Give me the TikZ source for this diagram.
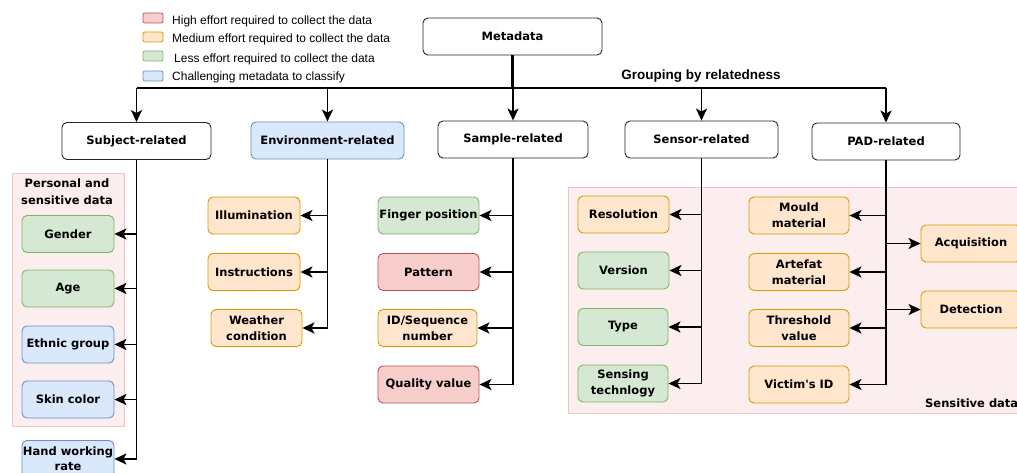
\documentclass[tikz,border=0pt]{standalone}
\usepackage{fontspec}
\usetikzlibrary{arrows.meta}
\newfontfamily\boxfont{DejaVu Sans}
\newfontfamily\legfont{Liberation Sans}

\definecolor{redF}{HTML}{F8CECC}\definecolor{redD}{HTML}{B85450}
\definecolor{orgF}{HTML}{FFE6CC}\definecolor{orgD}{HTML}{D79B00}
\definecolor{grnF}{HTML}{D5E8D4}\definecolor{grnD}{HTML}{82B366}
\definecolor{bluF}{HTML}{DAE8FC}\definecolor{bluD}{HTML}{6C8EBF}
\definecolor{zoneF}{HTML}{FCEEEE}\definecolor{zoneD}{HTML}{EFC4C4}

\tikzset{
  card/.style={rounded corners=5pt, line width=0.9pt, align=center, inner sep=1pt,
    font=\boxfont\bfseries\fontsize{11.5}{16}\selectfont,
    minimum height=37pt, minimum width=#1},
  card/.default=92pt,
  plain/.style={card=#1, draw=black!85, fill=white},
  hi/.style={card=#1, draw=redD, fill=redF},
  med/.style={card=#1, draw=orgD, fill=orgF},
  lo/.style={card=#1, draw=grnD, fill=grnF},
  hard/.style={card=#1, draw=bluD, fill=bluF},
  plain/.default=150pt, hi/.default=92pt, med/.default=92pt, lo/.default=92pt, hard/.default=92pt,
  wire/.style={line width=1.8pt, black},
  link/.style={wire, -{Stealth[length=12pt,width=11pt,inset=3pt]}},
  swatch/.style={rounded corners=2pt, line width=0.8pt, minimum width=20pt, minimum height=10pt, inner sep=0pt},
  legtext/.style={anchor=west, inner sep=0pt, font=\legfont\fontsize{12}{14}\selectfont},
  zone/.style={draw=zoneD, fill=zoneF, line width=0.8pt},
}

\begin{document}
\begin{tikzpicture}[x=1pt, y=-1pt]
\useasboundingbox (0,0) rectangle (1017,473);
\clip (0,0) rectangle (1017,473);

% shaded groupings
\draw[zone] (12,173) rectangle (124,426);
\draw[zone] (568,187) rectangle (1040,413);
\node[font=\boxfont\bfseries\fontsize{11.5}{17}\selectfont, align=center, inner sep=0pt] (personal) at (67,191.5) {Personal and\\sensitive data};
\node[font=\boxfont\bfseries\fontsize{11.5}{13}\selectfont, anchor=west, inner sep=0pt] (sensitive) at (925,403) {Sensitive data};

% legend
\node[swatch, draw=redD, fill=redF] (lg1) at (153,18) {};
\node[swatch, draw=orgD, fill=orgF] (lg2) at (153,37) {};
\node[swatch, draw=grnD, fill=grnF] (lg3) at (153,56) {};
\node[swatch, draw=bluD, fill=bluF] (lg4) at (153,76) {};
\node[legtext] (lt1) at (172,21) {High effort required to collect the data};
\node[legtext] (lt2) at (172,39) {Medium effort required to collect the data};
\node[legtext] (lt3) at (174,59) {Less effort required to collect the data};
\node[legtext] (lt4) at (172,77) {Challenging metadata to classify};

% root and groups
\node[plain=179pt] (meta) at (512.5,36.5) {Metadata};
\node[font=\legfont\bfseries\fontsize{13.5}{15}\selectfont, inner sep=0pt] (grouping) at (701,76) {Grouping by relatedness};

\node[plain=149pt] (subj) at (136.5,141) {Subject-related};
\node[hard=153pt] (env) at (327.5,140.5) {Environment-related};
\node[plain=150pt] (samp) at (513,139.5) {Sample-related};
\node[plain=153pt] (sens) at (701.5,139.5) {Sensor-related};
\node[plain=148pt] (pad) at (886,141.5) {PAD-related};

% subject
\node[lo] (gender) at (68,234) {Gender};
\node[lo] (age) at (68,288.5) {Age};
\node[hard] (ethnic) at (68,344.5) {Ethnic group};
\node[hard] (skin) at (68,399.5) {Skin color};
\node[hard, font=\boxfont\bfseries\fontsize{11.5}{15}\selectfont] (hand) at (68,459) {Hand working\\rate};

% environment
\node[med] (illum) at (254,215.5) {Illumination};
\node[med] (instr) at (254,272) {Instructions};
\node[med=91pt] (weather) at (256.5,328) {Weather\\condition};

% sample
\node[lo=101pt] (finger) at (428.5,215.5) {Finger position};
\node[hi=101pt] (pattern) at (428.5,272) {Pattern};
\node[med=99pt] (idseq) at (427.5,328) {ID/Sequence\\number};
\node[hi=101pt] (quality) at (428.5,384.5) {Quality value};

% sensor
\node[med=91pt] (resol) at (623.5,214.5) {Resolution};
\node[lo=91pt] (version) at (623.5,270.5) {Version};
\node[lo=90pt] (type) at (623,327) {Type};
\node[lo=90pt] (sensing) at (623,383.5) {Sensing\\technlogy};

% PAD
\node[med=100pt] (mould) at (799,215.5) {Mould\\material};
\node[med=100pt] (artefat) at (799,272) {Artefat\\material};
\node[med=100pt] (thresh) at (799,328) {Threshold\\value};
\node[med=100pt] (victim) at (799,384.5) {Victim's ID};
\node[med=100pt] (acq) at (971,243.5) {Acquisition};
\node[med=100pt] (det) at (971,309.5) {Detection};

% top-level tree
\coordinate (busL) at (136.5,88);
\coordinate (busR) at (886,88);
\draw[wire, line width=2.6pt] (meta.south) -- (meta.south |- busL);
\draw[wire] (busL) -- (busR);
\foreach \g in {subj,env,samp,sens,pad}
  \draw[link] (\g.north |- busL) -- (\g.north);

% subject branches
\draw[wire] (subj.south) -- (subj.south |- hand.east);
\foreach \c in {gender,age,ethnic,skin,hand}
  \draw[link] (subj.south |- \c.east) -- (\c.east);

% environment branches
\draw[wire] (env.south) -- (env.south |- weather.east);
\foreach \c in {illum,instr,weather}
  \draw[link] (env.south |- \c.east) -- (\c.east);

% sample branches
\draw[wire] (samp.south) -- (samp.south |- quality.east);
\foreach \c in {finger,pattern,idseq,quality}
  \draw[link] (samp.south |- \c.east) -- (\c.east);

% sensor branches
\draw[wire] (sens.south) -- (sens.south |- sensing.east);
\foreach \c in {resol,version,type,sensing}
  \draw[link] (sens.south |- \c.east) -- (\c.east);

% PAD branches
\draw[wire] (pad.south) -- (pad.south |- victim.east);
\foreach \c in {mould,artefat,thresh,victim}
  \draw[link] (pad.south |- \c.east) -- (\c.east);
\foreach \c in {acq,det}
  \draw[link] (pad.south |- \c.west) -- (\c.west);
\end{tikzpicture}
\end{document}
